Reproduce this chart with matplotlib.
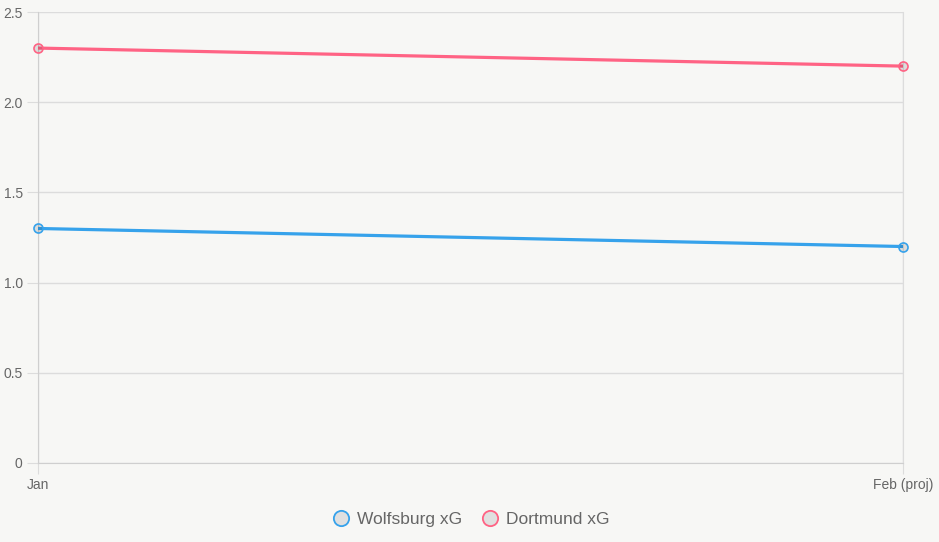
import matplotlib
matplotlib.use("Agg")
import matplotlib.pyplot as plt
from matplotlib.lines import Line2D

categories = ["Jan", "Feb (proj)"]
wolfsburg = [1.3, 1.2]
dortmund = [2.3, 2.2]
series_names = ["Wolfsburg xG", "Dortmund xG"]
colors = ["#36a2eb", "#ff6384"]
yticks = [0, 0.5, 1.0, 1.5, 2.0, 2.5]
ytick_labels = ["0", "0.5", "1.0", "1.5", "2.0", "2.5"]

plt.rcParams['font.family'] = ['Liberation Sans', 'DejaVu Sans']
bg = "#f7f7f5"
W, H = 939, 542
fig = plt.figure(figsize=(W/100, H/100), dpi=100, facecolor=bg)
ax = fig.add_axes([38/W, 1-463/H, (903-38)/W, (463-12)/H], facecolor=bg)

x = list(range(len(categories)))
for vals, c in zip([wolfsburg, dortmund], colors):
    ax.plot(x, vals, color=c, lw=2.3, zorder=3, solid_capstyle='round')
    ax.plot(x, vals, ls='none', marker='o', ms=6.5, mec=c, mfc=(0, 0, 0, 0.1), mew=1.2, zorder=4, clip_on=False)

ax.set_xlim(0, 1)
ax.set_ylim(0, 2.5)
ax.set_yticks(yticks)
ax.set_yticklabels(ytick_labels)
ax.set_xticks(x)
ax.set_xticklabels(categories)
ax.grid(True, color="#dcdcdc", lw=1)
for s in ax.spines.values():
    s.set_visible(False)
ax.spines['left'].set_visible(True)
ax.spines['left'].set_color("#cfcfcf")
ax.spines['bottom'].set_visible(True)
ax.spines['bottom'].set_color("#cfcfcf")
ax.spines['right'].set_visible(True)
ax.spines['right'].set_color("#dcdcdc")
ax.tick_params(axis='both', length=8, color="#dcdcdc", labelcolor="#666666", labelsize=10)
ax.tick_params(axis='y', pad=3)
ax.tick_params(axis='x', pad=3)

handles = [Line2D([], [], ls='none', marker='o', ms=11, mec=c, mfc="#e0e0e0", mew=1.3) for c in colors]
leg = fig.legend(handles, series_names, loc='center', bbox_to_anchor=(470/W, 1-519/H), ncol=2,
                 frameon=False, fontsize=12.5, labelcolor="#666666", handletextpad=0.3,
                 columnspacing=1.0, handlelength=1.2)
fig.savefig("out.png", dpi=100, facecolor=bg)
